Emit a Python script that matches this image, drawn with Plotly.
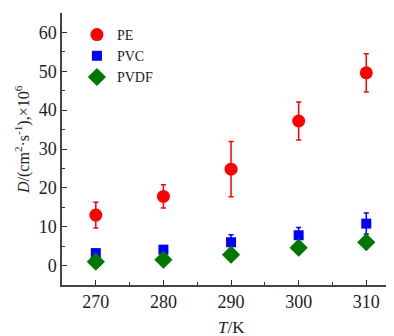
import plotly.graph_objects as go

T = [270, 280, 290, 300, 310]
pe = [13.0, 17.8, 24.8, 37.2, 49.6]
pe_err = [3.3, 3.0, 7.1, 4.9, 4.9]
pvc = [3.2, 4.1, 6.0, 7.8, 10.8]
pvc_err = [1.0, 1.0, 1.9, 2.0, 2.7]
pvdf = [1.0, 1.5, 2.8, 4.6, 6.0]
pvdf_err = [0.5, 0.5, 0.5, 0.5, 0.5]

font = "Liberation Serif"

fig = go.Figure()
fig.add_trace(go.Scatter(x=T, y=pe, mode="markers", name="PE",
                         marker=dict(symbol="circle", size=13, color="#ff0000"),
                         error_y=dict(type="data", array=pe_err, color="#ff0000", thickness=1.5, width=2.5)))
fig.add_trace(go.Scatter(x=T, y=pvc, mode="markers", name="PVC",
                         marker=dict(symbol="square", size=10, color="#0000ff"),
                         error_y=dict(type="data", array=pvc_err, color="#0000ff", thickness=1.5, width=2.5)))
fig.add_trace(go.Scatter(x=T, y=pvdf, mode="markers", name="PVDF",
                         marker=dict(symbol="diamond", size=14, color="#007700"),
                         error_y=dict(type="data", array=pvdf_err, color="#007700", thickness=1.5, width=2.5)))

# page body has an 8px margin; the figure is sized/placed to compensate
fig.update_layout(
    width=386, height=328,
    margin=dict(l=54, r=0, t=5, b=51, autoexpand=False),
    paper_bgcolor="white", plot_bgcolor="white",
    font=dict(family=font, size=18, color="#222222"),
    showlegend=True,
    legend=dict(x=0.045, y=0.978, xanchor="left", yanchor="top",
                font=dict(family=font, size=14, color="#222222"),
                bgcolor="rgba(0,0,0,0)", tracegroupgap=0, itemwidth=30),
    xaxis=dict(range=[265, 314.1], tickvals=T, ticks="inside", ticklen=5, tickwidth=1,
               tickcolor="#333333", showline=True, linecolor="#444444", linewidth=1.5,
               showgrid=False, zeroline=False, automargin=False,
               tickfont=dict(family=font, size=18),
               minor=dict(tickvals=[275, 285, 295, 305], ticks="inside", ticklen=3, tickcolor="#333333")),
    yaxis=dict(range=[-5, 65], tickvals=[0, 10, 20, 30, 40, 50, 60], ticks="inside", ticklen=5, tickwidth=1,
               tickcolor="#333333", showline=True, linecolor="#444444", linewidth=1.5,
               showgrid=False, zeroline=False, automargin=False,
               tickfont=dict(family=font, size=18),
               minor=dict(tickvals=[-5, 5, 15, 25, 35, 45, 55], ticks="inside", ticklen=3, tickcolor="#333333")),
    annotations=[
        dict(text="<i>T</i>/K", xref="paper", yref="paper", x=(231 - 62) / 332, y=-(327 - 285) / 272,
             xanchor="center", yanchor="middle", showarrow=False,
             font=dict(family=font, size=17, color="#222222")),
        dict(text="<i>D</i>/(cm<sup>2</sup>·s<sup>-1</sup>),×10<sup>6</sup>", xref="paper", yref="paper",
             x=-(62 - 22) / 332, y=(285 - 140) / 272, textangle=-90,
             xanchor="center", yanchor="middle", showarrow=False,
             font=dict(family=font, size=16, color="#222222")),
    ],
)

fig.write_html("out.html")
